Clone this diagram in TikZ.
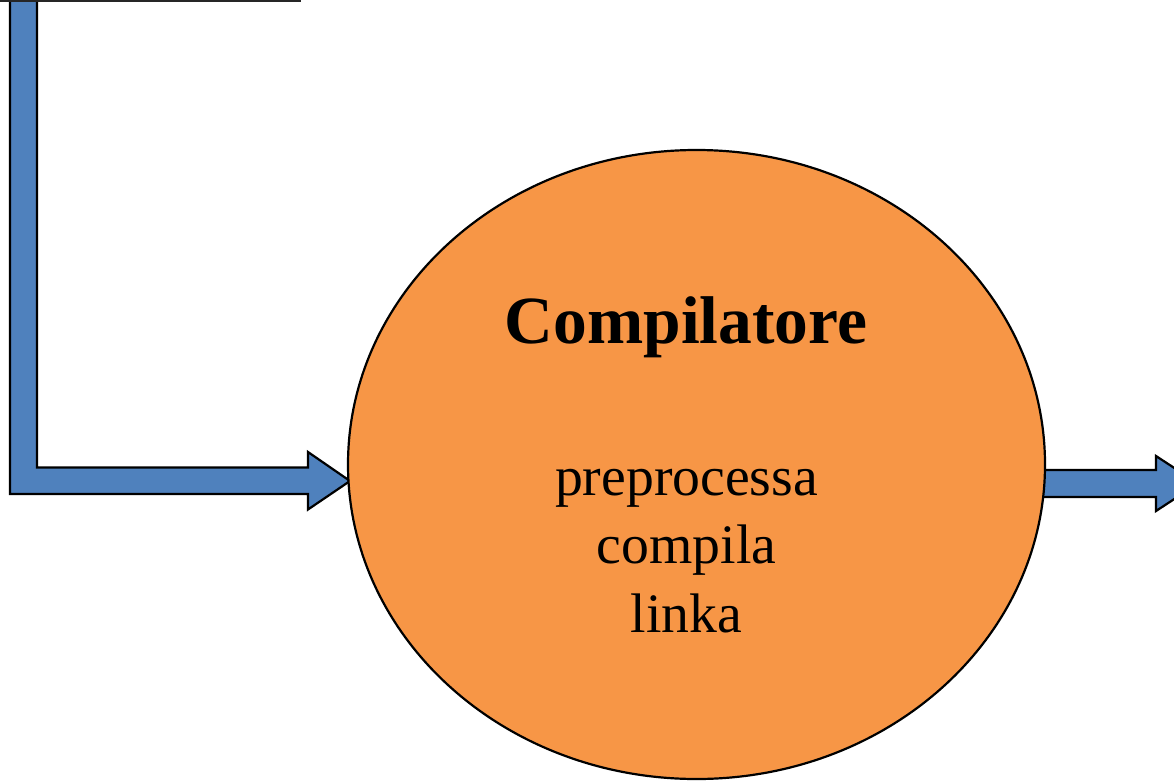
\documentclass[tikz,border=0pt]{standalone}
\usepackage{fontspec}
\setmainfont{Liberation Serif}
\definecolor{arrowblue}{HTML}{4F81BD}
\definecolor{compor}{HTML}{F79646}
\tikzset{
  blockarrow/.style={fill=arrowblue, draw=black, line width=2.2pt, line join=miter},
  lbl/.style={anchor=base, inner sep=0pt, font=\fontsize{55.7}{68}\selectfont},
  ttl/.style={anchor=base, inner sep=0pt, font=\fontsize{67.5}{80}\selectfont\bfseries}
}
\begin{document}
\begin{tikzpicture}[x=1pt,y=-1pt]
\useasboundingbox (0,0) rectangle (1174,781);
\begin{scope}
\clip (0,0) rectangle (1174,781);
% left L-shaped block arrow into the compiler
\draw[blockarrow] (10,-10) -- (37,-10) -- (37,467.5) -- (308,467.5) -- (308,452)
   -- (350,481) -- (308,509.5) -- (308,494) -- (10,494) -- cycle;
% source box (only its lower edge visible)
\node[draw=black!85, line width=2.2pt, fill=white, minimum width=320pt, minimum height=60pt,
      inner sep=0pt, anchor=south east] (src) at (301,2) {};
% output block arrow
\draw[blockarrow] (1040,470) -- (1156,470) -- (1156,456) -- (1198,483.5)
   -- (1156,511) -- (1156,497) -- (1040,497) -- cycle;
% compiler ellipse
\draw[fill=compor, draw=black, line width=2.2pt] (696.5,464.5) ellipse [x radius=348.5, y radius=314.5];
\coordinate (comp) at (696.5,464.5);
\end{scope}
\node[ttl] (title) at (686,343) {Compilatore};
\node[lbl] (l1) at (686.5,495) {preprocessa};
\node[lbl] (l2) at (686.5,563) {compila};
\node[lbl] (l3) at (686.5,632) {linka};
\end{tikzpicture}
\end{document}
